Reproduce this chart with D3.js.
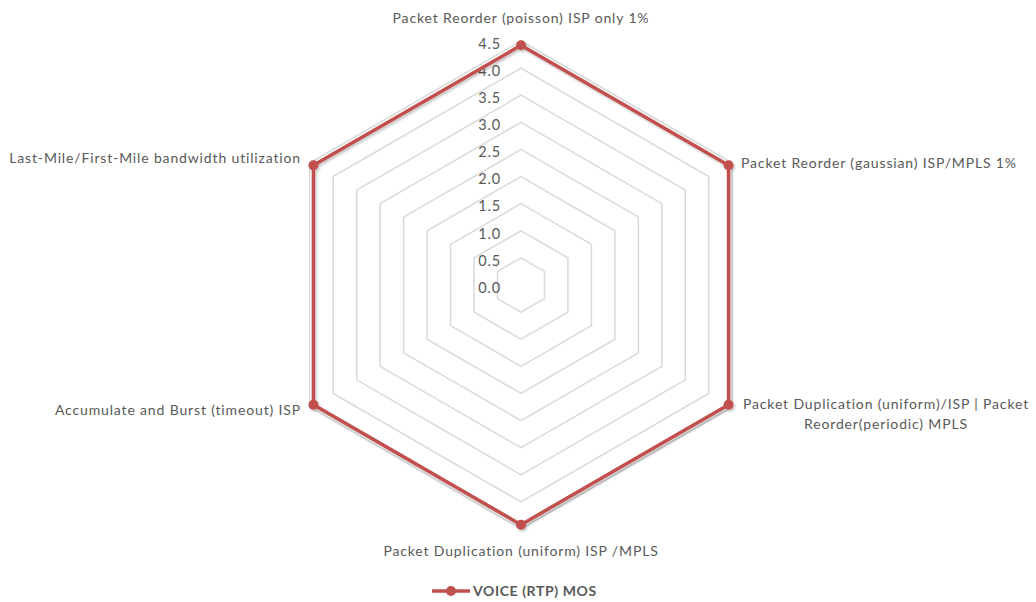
<!DOCTYPE html>
<html>
<head>
<meta charset="utf-8">
<script src="https://cdn.jsdelivr.net/npm/d3@7"></script>
<style>
  html, body { margin: 0; padding: 0; background: #fff; }
  svg { display: block; }
  text { font-family: Lato, "Open Sans", sans-serif; fill: #595959; }
</style>
</head>
<body>
<svg id="chart" width="1036" height="602"></svg>
<script>
// Radar axes, clockwise from the top
const categories = [
  "Packet Reorder (poisson) ISP only 1%",
  "Packet Reorder (gaussian) ISP/MPLS 1%",
  "Packet Duplication (uniform)/ISP | Packet Reorder(periodic) MPLS",
  "Packet Duplication (uniform) ISP /MPLS",
  "Accumulate and Burst (timeout) ISP",
  "Last-Mile/First-Mile bandwidth utilization"
];
const seriesName = "VOICE (RTP) MOS";
const mosValues = [4.42, 4.42, 4.42, 4.42, 4.42, 4.42];
const tickValues = [0.0, 0.5, 1.0, 1.5, 2.0, 2.5, 3.0, 3.5, 4.0, 4.5];

const svg = d3.select("#chart");
const cx = 521, cy = 285;
const r = d3.scaleLinear().domain([0, 4.5]).range([0, 244]);
const angle = d3.scaleLinear().domain([0, categories.length]).range([0, 2 * Math.PI]);

const defs = svg.append("defs");
const shadow = defs.append("filter").attr("id", "shadow")
  .attr("x", "-10%").attr("y", "-10%").attr("width", "120%").attr("height", "120%");
shadow.append("feDropShadow")
  .attr("dx", 1.5).attr("dy", 2).attr("stdDeviation", 1)
  .attr("flood-color", "#000").attr("flood-opacity", 0.22);

const g = svg.append("g").attr("transform", `translate(${cx},${cy})`);

// Hexagonal gridlines, one per tick (0.0 has zero radius)
const gridLine = d3.lineRadial()
  .angle((d, i) => angle(i))
  .radius(d => d)
  .curve(d3.curveLinearClosed);
g.append("g").selectAll("path")
  .data(tickValues.filter(v => v > 0))
  .join("path")
  .attr("d", v => gridLine(categories.map(() => r(v))))
  .attr("fill", "none")
  .attr("stroke", "#d9d9d9")
  .attr("stroke-width", 1.5);

// Value labels up the top axis
g.append("g").selectAll("text")
  .data(tickValues)
  .join("text")
  .attr("x", -20)
  .attr("y", v => -r(v) + 2.5)
  .attr("dy", "0.36em")
  .attr("text-anchor", "end")
  .attr("font-size", 14.5)
  .attr("letter-spacing", 0.8)
  .text(v => d3.format(".1f")(v));

// Data series
const seriesLine = d3.lineRadial()
  .angle((d, i) => angle(i))
  .radius(d => r(d))
  .curve(d3.curveLinearClosed);
const series = g.append("g").attr("filter", "url(#shadow)");
series.append("path")
  .attr("d", seriesLine(mosValues))
  .attr("fill", "none")
  .attr("stroke", "#c0504d")
  .attr("stroke-width", 3.5)
  .attr("stroke-linejoin", "round");
series.selectAll("circle")
  .data(mosValues)
  .join("circle")
  .attr("cx", (d, i) => r(d) * Math.sin(angle(i)))
  .attr("cy", (d, i) => -r(d) * Math.cos(angle(i)))
  .attr("r", 5)
  .attr("fill", "#c0504d");

// Category labels
const labelPos = [
  { x: 0, y: -267, anchor: "middle", lines: [categories[0]] },
  { x: 220, y: -122, anchor: "start", lines: [categories[1]] },
  { x: 365, y: 119, anchor: "middle", lines: ["Packet Duplication (uniform)/ISP | Packet", "Reorder(periodic) MPLS"] },
  { x: 0, y: 266, anchor: "middle", lines: [categories[3]] },
  { x: -220, y: 125, anchor: "end", lines: [categories[4]] },
  { x: -220, y: -127, anchor: "end", lines: [categories[5]] }
];
const labels = g.append("g").selectAll("text")
  .data(labelPos)
  .join("text")
  .attr("x", d => d.x)
  .attr("y", d => d.y)
  .attr("text-anchor", d => d.anchor)
  .attr("font-size", 14)
  .attr("letter-spacing", 0.85);
labels.each(function(d) {
  const t = d3.select(this);
  d.lines.forEach((line, k) => {
    t.append("tspan")
      .attr("x", d.x)
      .attr("dy", k === 0 ? "0.36em" : "1.45em")
      .text(line);
  });
});

// Legend
const lg = svg.append("g").attr("transform", "translate(432,591)");
lg.append("line").attr("x1", 0).attr("x2", 38).attr("y1", 0).attr("y2", 0)
  .attr("stroke", "#c0504d").attr("stroke-width", 3.5);
lg.append("circle").attr("cx", 19).attr("cy", 0).attr("r", 5).attr("fill", "#c0504d");
lg.append("text").attr("x", 41).attr("y", 0).attr("dy", "0.36em")
  .attr("font-size", 14).attr("font-weight", "bold").attr("letter-spacing", 0.6)
  .text(seriesName);
</script>
</body>
</html>
